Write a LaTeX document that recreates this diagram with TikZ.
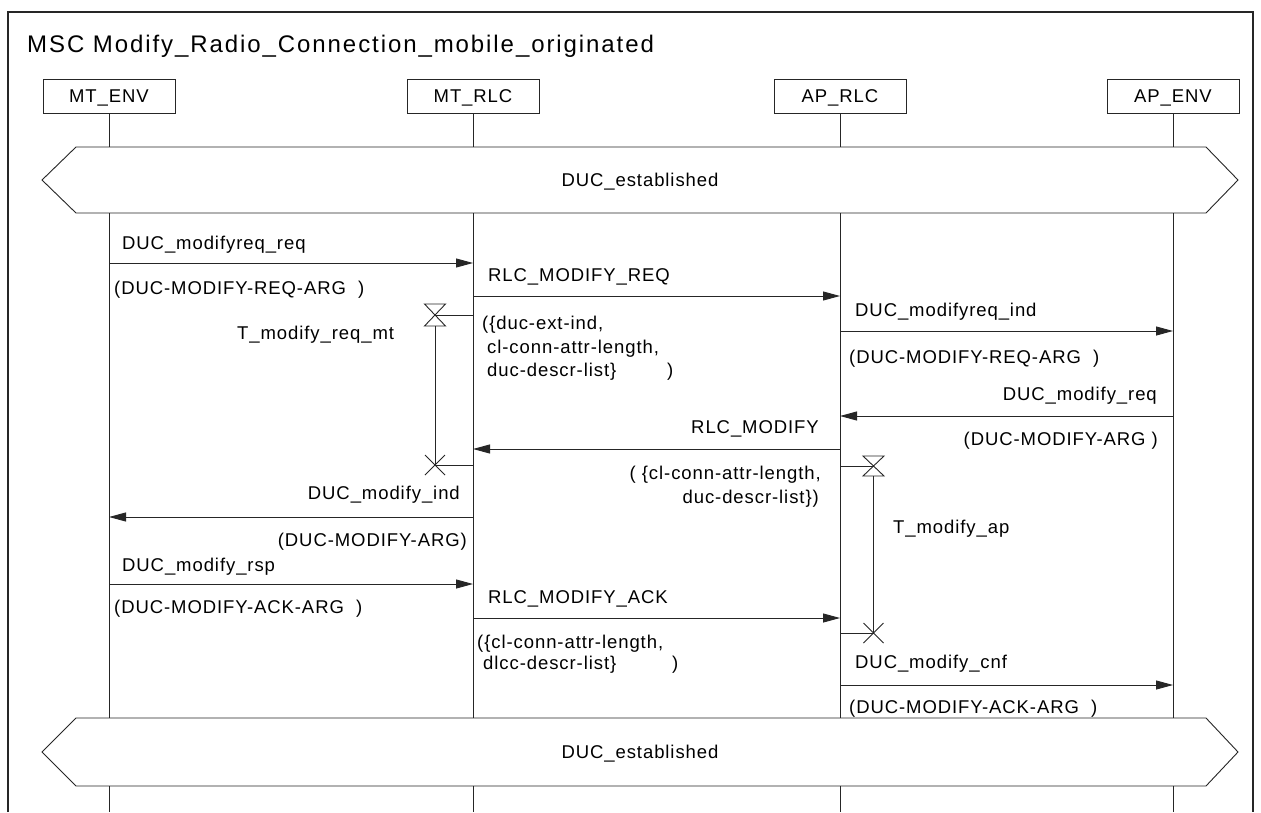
\documentclass[tikz,border=0pt]{standalone}
\usepackage{fontspec}
\setmainfont{Liberation Sans}[LetterSpace=5]
\newfontfamily\titlefont{Liberation Sans}[LetterSpace=8]
\usetikzlibrary{arrows.meta}
\begin{document}
\begin{tikzpicture}[x=1pt,y=-1pt,
  ln/.style={line width=0.9pt, draw=black!85},
  msg/.style={ln, -{Triangle[length=17pt,width=9pt]}},
  inst/.style={draw=black!85, line width=0.9pt, minimum width=132pt, minimum height=34pt, inner sep=0pt, font=\fontsize{18.5}{20}\selectfont, text height=13pt, text depth=0pt},
  lbl/.style={inner sep=0pt, font=\fontsize{18.5}{20}\selectfont},
  lw/.style={lbl, anchor=base west},
  le/.style={lbl, anchor=base east},
  cond/.style={lbl, text height=13pt, text depth=0pt, anchor=center},
]
\useasboundingbox (0,0) rectangle (1261,812);
\fill[white] (0,0) rectangle (1261,812);
% frame
\draw[ln, line width=1.1pt] (8,812) -- (8,12) -- (1253,12) -- (1253,812);
\node[lw, font=\titlefont\fontsize{24}{26}\selectfont] (title) at (27,52) {MSC Modify\_Radio\_Connection\_mobile\_originated};
% instances
\node[inst] (e1) at (109,96) {MT\_ENV};
\node[inst] (e2) at (473,96) {MT\_RLC};
\node[inst] (e3) at (840,96) {AP\_RLC};
\node[inst] (e4) at (1173,96) {AP\_ENV};
% conditions
\draw[ln] (42,180) -- (76,147) -- (1206,147) -- (1238,180) -- (1206,213) -- (76,213) -- cycle;
\node[cond] (c1) at (640,180) {DUC\_established};
\draw[ln] (42,752) -- (76,718) -- (1206,718) -- (1238,752) -- (1206,786) -- (76,786) -- cycle;
\node[cond] (c2) at (640,752) {DUC\_established};
% lifelines
\foreach \n/\x in {1/109,2/473,3/840,4/1173}{
  \coordinate (t\n a) at (\x,147);
  \coordinate (t\n b) at (\x,213);
  \coordinate (t\n c) at (\x,718);
  \coordinate (t\n d) at (\x,786);
  \coordinate (t\n e) at (\x,812);
  \draw[ln] (e\n.south) -- (t\n a) (t\n b) -- (t\n c) (t\n d) -- (t\n e);
}
% messages
\coordinate (m1a) at (109,263); \coordinate (m1b) at (473,263);
\draw[msg] (m1a) -- (m1b);
\node[lw] (m1l) at (122,249.5) {DUC\_modifyreq\_req};
\node[lw] (m1p) at (114,294.5) {(DUC-MODIFY-REQ-ARG\ \ )};

\coordinate (m2a) at (473,296); \coordinate (m2b) at (840,296);
\draw[msg] (m2a) -- (m2b);
\node[lw] (m2l) at (488,281.5) {RLC\_MODIFY\_REQ};
\node[lw] (m2p1) at (482,329.5) {(\{duc-ext-ind,};
\node[lw] (m2p2) at (487,353.5) {cl-conn-attr-length,};
\node[lw] (m2p3) at (487,376.5) {duc-descr-list\}};
\node[lw] (m2p4) at (667,376.5) {)};

\coordinate (m3a) at (840,331); \coordinate (m3b) at (1173,331);
\draw[msg] (m3a) -- (m3b);
\node[lw] (m3l) at (855,316.5) {DUC\_modifyreq\_ind};
\node[lw] (m3p) at (849,363.5) {(DUC-MODIFY-REQ-ARG\ \ )};

\coordinate (m4a) at (1173,416); \coordinate (m4b) at (840,416);
\draw[msg] (m4a) -- (m4b);
\node[le] (m4l) at (1157,400.5) {DUC\_modify\_req};
\node[le] (m4p) at (1158,445.5) {(DUC-MODIFY-ARG )};

\coordinate (m5a) at (840,449); \coordinate (m5b) at (473,449);
\draw[msg] (m5a) -- (m5b);
\node[le] (m5l) at (819,433.5) {RLC\_MODIFY};
\node[le] (m5p1) at (821,479.5) {( \{cl-conn-attr-length,};
\node[le] (m5p2) at (819,503.5) {duc-descr-list\})};

\coordinate (m6a) at (473,517); \coordinate (m6b) at (109,517);
\draw[msg] (m6a) -- (m6b);
\node[le] (m6l) at (460,499.5) {DUC\_modify\_ind};
\node[le] (m6p) at (467,546.5) {(DUC-MODIFY-ARG)};

\coordinate (m7a) at (109,584); \coordinate (m7b) at (473,584);
\draw[msg] (m7a) -- (m7b);
\node[lw] (m7l) at (122,571.5) {DUC\_modify\_rsp};
\node[lw] (m7p) at (114,613.5) {(DUC-MODIFY-ACK-ARG\ \ )};

\coordinate (m8a) at (473,618); \coordinate (m8b) at (840,618);
\draw[msg] (m8a) -- (m8b);
\node[lw] (m8l) at (488,603.5) {RLC\_MODIFY\_ACK};
\node[lw] (m8p1) at (477,648.5) {(\{cl-conn-attr-length,};
\node[lw] (m8p2) at (483,669.5) {dlcc-descr-list\}};
\node[lw] (m8p3) at (672,669.5) {)};

\coordinate (m9a) at (840,685); \coordinate (m9b) at (1173,685);
\draw[msg] (m9a) -- (m9b);
\node[lw] (m9l) at (855,668.5) {DUC\_modify\_cnf};
\node[lw] (m9p) at (849,713.5) {(DUC-MODIFY-ACK-ARG\ \ )};

% timer T_modify_req_mt
\coordinate (s1) at (435,315); \coordinate (s1l) at (473,315);
\coordinate (x1) at (435,465); \coordinate (x1l) at (473,465);
\draw[ln] (424.5,304) -- (445.5,304) -- (424.5,326) -- (445.5,326) -- cycle;
\draw[ln] (s1l) -- (s1);
\draw[ln] (435,326) -- (x1);
\draw[ln] (425,455) -- (445,475) (425,475) -- (445,455);
\draw[ln] (x1) -- (x1l);
\node[lw] (tl1) at (237,339.5) {T\_modify\_req\_mt};

% timer T_modify_ap
\coordinate (s2) at (873.5,466); \coordinate (s2l) at (840,466);
\coordinate (x2) at (873.5,633); \coordinate (x2l) at (840,633);
\draw[ln] (863,456) -- (884,456) -- (863,476) -- (884,476) -- cycle;
\draw[ln] (s2l) -- (s2);
\draw[ln] (873.5,476) -- (x2);
\draw[ln] (863.5,623) -- (883.5,643) (863.5,643) -- (883.5,623);
\draw[ln] (x2) -- (x2l);
\node[lw] (tl2) at (893,533.5) {T\_modify\_ap};
\end{tikzpicture}
\end{document}
